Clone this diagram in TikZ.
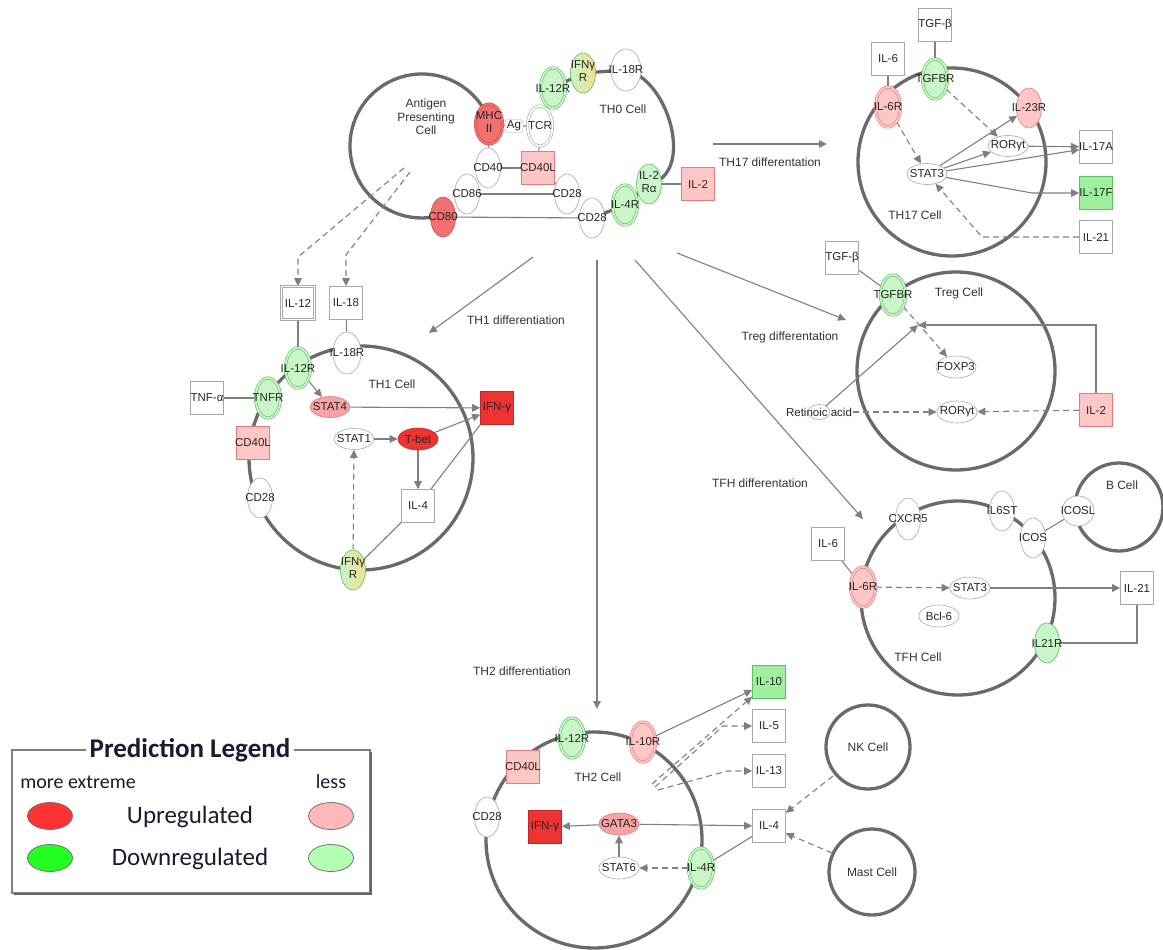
\documentclass[tikz,border=0pt]{standalone}
\usepackage{fontspec}
\setmainfont{Liberation Sans}
\newfontfamily\legfont{Carlito}
\usetikzlibrary{shapes.geometric,arrows.meta}
\pgfdeclarelayer{memb}
\pgfdeclarelayer{edgelayer}
\pgfsetlayers{memb,edgelayer,main}
\definecolor{wB}{HTML}{A8A8A8}
\definecolor{gF}{HTML}{C9F5C9}
\definecolor{gB}{HTML}{5DBE5D}
\definecolor{gMF}{HTML}{9EF09E}
\definecolor{pF}{HTML}{FFC6C6}
\definecolor{pB}{HTML}{E07C7C}
\definecolor{pDkF}{HTML}{F7A3A3}
\definecolor{rMF}{HTML}{F27070}
\definecolor{rMB}{HTML}{D05050}
\definecolor{rSF}{HTML}{EE3333}
\definecolor{rSB}{HTML}{C02828}
\definecolor{memc}{HTML}{6A6A6A}
\definecolor{edgec}{HTML}{7F7F7F}
\definecolor{yF}{HTML}{F0E090}
\definecolor{legR}{HTML}{FF3333}
\definecolor{legr}{HTML}{FFB8B8}
\definecolor{legG}{HTML}{22FF22}
\definecolor{legg}{HTML}{B3FFB3}
\definecolor{legtxt}{HTML}{1A1A30}
\newcommand{\zl}[1]{\makebox[0pt]{#1}}
\newcommand{\zt}[2]{\makebox[0pt]{\begin{tabular}{@{}c@{}}#1\\[1pt]#2\end{tabular}}}
\begin{document}
\begin{tikzpicture}[x=1pt,y=-1pt,
  lab/.style={font=\fontsize{11.5}{12}\selectfont, text=black!85},
  celltxt/.style={font=\fontsize{12}{13.5}\selectfont, text=black!80, align=center},
  ell/.style={ellipse, lab, draw=wB, fill=white, inner sep=0pt, minimum width=25, minimum height=40, line width=0.6pt},
  hell/.style={ell, minimum width=40, minimum height=21},
  box/.style={rectangle, lab, draw=wB, fill=white, inner sep=0pt, minimum width=33, minimum height=33, line width=0.6pt},
  gD/.style={fill=gF, draw=gB, double=gF, double distance=1.8pt},
  gS/.style={fill=gF, draw=gB},
  gM/.style={fill=gMF, draw=gB},
  pD/.style={fill=pF, draw=pB, double=pF, double distance=1.8pt},
  pS/.style={fill=pF, draw=pB},
  pK/.style={fill=pDkF, draw=pB},
  rM/.style={fill=rMF, draw=rMB},
  rD/.style={fill=rMF, draw=rMB, double=rMF, double distance=1.8pt},
  rS/.style={fill=rSF, draw=rSB},
  wD/.style={draw=wB, double=white, double distance=1.8pt},
  grad/.style={left color=gF, right color=yF, draw=gB},
  mem/.style={draw=memc, line width=3.3pt},
  ln/.style={draw=edgec, line width=1.1pt},
  arr/.style={ln, -{Triangle[length=8pt,width=7.5pt]}},
  dsh/.style={ln, dash pattern=on 6pt off 4pt},
  darr/.style={arr, dash pattern=on 6pt off 4pt},
  legell/.style={ellipse, draw=black!55, line width=0.8pt, minimum width=45, minimum height=27, inner sep=0pt},
]
\useasboundingbox (0,0) rectangle (1163,950);
\begin{pgfonlayer}{memb}
\fill[white] (0,0) rectangle (1163,950);
\end{pgfonlayer}

% ================= APC / TH0 =================
\node[celltxt] (APCt) at (426,117) {Antigen\\Presenting\\Cell};
\node[ell] (CD86) at (467,194) {\zl{CD86}};
\node[ell] (CD40) at (488,168) {\zl{CD40}};
\node[ell, rM] (CD80) at (443,217) {\zl{CD80}};
\node[ell, rD, minimum width=27] (MHC) at (489,124) {\zt{MHC}{II}};
\node[rectangle, rounded corners=3pt, draw=wB, fill=white, lab, minimum width=18, minimum height=13, inner sep=1pt] (Ag) at (514,126) {Ag};
\node[ell, wD] (TCR) at (540,126) {\zl{TCR}};
\node[box, pS] (CD40La) at (538,168) {\zl{CD40L}};
\node[ell] (CD28a) at (567,194) {\zl{CD28}};
\node[ell] (CD28b) at (592,218) {\zl{CD28}};
\node[ell, gD] (IL4Ra) at (625,205) {\zl{IL-4R}};
\node[ell, gS] (IL2Ra) at (649,184) {\zt{IL-2}{Rα}};
\node[box, pS] (IL2a) at (698,184) {\zl{IL-2}};
\node[ell, gD] (IL12Ra) at (553,88) {\zl{IL-12R}};
\node[ell, grad] (IFNGRa) at (583,73) {\zt{IFNγ}{R}};
\node[ell, minimum width=30, minimum height=42] (IL18Ra) at (626,70) {\zl{IL-18R}};
\node[celltxt] (TH0t) at (623,109) {TH0 Cell};

% differentiation arrows
\coordinate (d17s) at (713,144); \coordinate (d17e) at (827,144);
\node[celltxt] (d17t) at (770,162) {TH17 differentation};
\coordinate (d1s) at (533,257); \coordinate (d1e) at (429,333);
\node[celltxt] (d1t) at (516,320) {TH1 differentiation};
\coordinate (d2s) at (597,260); \coordinate (d2e) at (597,709);
\node[celltxt] (d2t) at (522,671) {TH2 differentiation};
\coordinate (dfs) at (635,260); \coordinate (dfe) at (863,519);
\node[celltxt] (dft) at (760,483) {TFH differentation};
\coordinate (dts) at (677,253); \coordinate (dte) at (846,320);
\node[celltxt] (dtt) at (790,337) {Treg differentation};

% ================= TH17 =================
\node[box] (TGFb17) at (935,25) {\zl{TGF-β}};
\node[box] (IL6a) at (888,59) {\zl{IL-6}};
\node[ell, gD] (TGFBR17) at (935,79) {\zl{TGFBR}};
\node[ell, pD] (IL6R17) at (888,107) {\zl{IL-6R}};
\node[ell, pS] (IL23R) at (1029,108) {\zl{IL-23R}};
\node[hell] (ROR17) at (1008,146) {\zl{RORγt}};
\node[hell] (STAT317) at (927,174) {\zl{STAT3}};
\node[box] (IL17A) at (1096,147) {\zl{IL-17A}};
\node[box, gM] (IL17F) at (1096,193) {\zl{IL-17F}};
\node[box] (IL21a) at (1096,237) {\zl{IL-21}};
\node[celltxt] (TH17t) at (915,215) {TH17 Cell};
\coordinate (k17F) at (1032,193);
\coordinate (k21) at (982,237);

% ================= TH1 =================
\node[box, wD] (IL12) at (298,303) {\zl{IL-12}};
\node[box] (IL18) at (346,303) {\zl{IL-18}};
\node[ell, minimum width=28, minimum height=42] (IL18R1) at (347,353) {\zl{IL-18R}};
\node[ell, gD] (IL12R1) at (298,368) {\zl{IL-12R}};
\node[ell, gD] (TNFR) at (268,398) {\zl{TNFR}};
\node[box] (TNFa) at (207,398) {\zl{TNF-α}};
\node[box, pS] (CD40L1) at (253,443) {\zl{CD40L}};
\node[ell] (CD281) at (260,498) {\zl{CD28}};
\node[hell, pK] (STAT4) at (330,407) {\zl{STAT4}};
\node[box, rS] (IFNg1) at (497,408) {\zl{IFN-γ}};
\node[hell] (STAT1) at (354,439) {\zl{STAT1}};
\node[hell, rS, minimum height=22] (Tbet) at (418,439) {\zl{T-bet}};
\node[box] (IL41) at (418,506) {\zl{IL-4}};
\node[ell, grad] (IFNGR1) at (353,570) {\zt{IFNγ}{R}};
\node[celltxt] (TH1t) at (392,384) {TH1 Cell};
\coordinate (a1) at (404,168); \coordinate (a2) at (410,172);
\coordinate (b1) at (298,257); \coordinate (b2) at (346,255);

% ================= Treg =================
\node[box] (TGFbT) at (842,258) {\zl{TGF-β}};
\node[ell, gD] (TGFBRT) at (893,295) {\zl{TGFBR}};
\node[celltxt] (Tregt) at (959,293) {Treg Cell};
\node[hell, minimum height=22] (FOXP3) at (956,367) {\zl{FOXP3}};
\node[hell, minimum height=22] (RORT) at (957,412) {\zl{RORγt}};
\node[ellipse, draw=wB, fill=white, line width=0.6pt, minimum width=22, minimum height=15, inner sep=0pt] (RAe) at (819,412) {};
\node[lab, inner sep=1pt] (RA) at (819,412) {Retinoic acid};
\node[box, pS] (IL2T) at (1096,410) {\zl{IL-2}};
\coordinate (J) at (918,325);
\coordinate (kT) at (1096,325);

% ================= TFH =================
\node[celltxt] (Bt) at (1122,485) {B Cell};
\node[ell, minimum height=42] (CXCR5) at (908,519) {\zl{CXCR5}};
\node[ell] (IL6ST) at (1002,511) {\zl{IL6ST}};
\node[ell] (ICOS) at (1033,538) {\zl{ICOS}};
\node[ell, minimum width=32, minimum height=30] (ICOSL) at (1078,511) {\zl{ICOSL}};
\node[box] (IL6F) at (828,544) {\zl{IL-6}};
\node[ell, pD] (IL6RF) at (863,587) {\zl{IL-6R}};
\node[hell, minimum height=22] (STAT3F) at (970,588) {\zl{STAT3}};
\node[hell, minimum height=22] (Bcl6) at (939,616) {\zl{Bcl-6}};
\node[box] (IL21F) at (1137,588) {\zl{IL-21}};
\node[ell, gS] (IL21R) at (1047,643) {\zl{IL21R}};
\node[celltxt] (TFHt) at (918,657) {TFH Cell};
\coordinate (kF) at (1137,643);

% ================= TH2 =================
\node[ell, gD] (IL12R2) at (572,738) {\zl{IL-12R}};
\node[ell, pD] (IL10R2) at (643,742) {\zl{IL-10R}};
\node[box, pS] (CD40L2) at (523,767) {\zl{CD40L}};
\node[celltxt] (TH2t) at (598,777) {TH2 Cell};
\node[ell] (CD282) at (487,817) {\zl{CD28}};
\node[box, rS] (IFNg2) at (545,827) {\zl{IFN-γ}};
\node[hell, pK, minimum height=22] (GATA3) at (619,824) {\zl{GATA3}};
\node[hell, minimum height=22] (STAT6) at (619,868) {\zl{STAT6}};
\node[ell, gD] (IL4R2) at (701,868) {\zl{IL-4R}};
\node[box, gM] (IL10) at (769,682) {\zl{IL-10}};
\node[box] (IL5) at (769,726) {\zl{IL-5}};
\node[box] (IL13) at (769,771) {\zl{IL-13}};
\node[box] (IL42) at (769,826) {\zl{IL-4}};
\coordinate (F1) at (652,784); \coordinate (F2) at (655,787); \coordinate (F3) at (658,790);
\coordinate (k5) at (723,726); \coordinate (k13) at (727,771);
\node[celltxt] (NKt) at (868,747) {NK Cell};
\node[celltxt] (Mastt) at (872,872) {Mast Cell};
\coordinate (nk) at (833,776); \coordinate (ms) at (832,853);

% ================= Legend =================
\draw[draw=black!50, line width=1.3pt] (12,750) rectangle (370,893);
\draw[draw=black!60, line width=1.6pt] (14,894) -- (371,894) -- (371,752);
\node[fill=white, inner xsep=4pt, inner ysep=0pt, text=legtxt, font=\legfont\bfseries\fontsize{27}{29}\selectfont] (LT) at (190,750) {Prediction Legend};
\node[text=legtxt, font=\legfont\fontsize{20}{22}\selectfont] (ME) at (78,782) {more extreme};
\node[text=legtxt, font=\legfont\fontsize{20}{22}\selectfont] (LS) at (331,782) {less};
\node[legell, fill=legR] (L1) at (50,816) {};
\node[legell, fill=legr] (L2) at (331,816) {};
\node[legell, fill=legG] (L3) at (50,858) {};
\node[legell, fill=legg] (L4) at (331,858) {};
\node[text=legtxt, font=\legfont\fontsize{25}{27}\selectfont] (UP) at (190,817) {Upregulated};
\node[text=legtxt, font=\legfont\fontsize{25}{27}\selectfont] (DN) at (190,859) {Downregulated};

% ================= Membranes =================
\begin{pgfonlayer}{memb}
\draw[mem] (422,146) ++(-18:72) arc[start angle=-18, end angle=-270, radius=72] -- (CD80.center);
\draw[mem] (TCR.center) -- (IL12Ra.center) -- (IFNGRa.center) -- (IL18Ra.center)
   .. controls (670,80) and (695,175) .. (IL2Ra.center) -- (IL4Ra.center) -- (CD28b.center);
\draw[mem] (952,162) circle[radius=94];
\draw[mem] (361,458) circle[radius=112];
\draw[mem] (956,371) circle[radius=99];
\draw[mem] (958,598) circle[radius=97];
\draw[mem] (1119,507) circle[radius=44];
\draw[mem] (594,840) circle[radius=108];
\draw[mem] (868,747) circle[radius=42];
\draw[mem] (872,872) circle[radius=43];
\end{pgfonlayer}

% ================= Edges =================
\begin{pgfonlayer}{edgelayer}
% TH0
\draw[ln] (MHC) -- (Ag) -- (TCR);
\draw[ln] (MHC) -- (CD40);
\draw[ln] (TCR) -- (CD40La);
\draw[ln] (CD40) -- (CD40La);
\draw[ln] (CD40La) -- (CD28a);
\draw[ln] (CD86) -- (CD28a);
\draw[ln] (CD80) -- (CD28b);
\draw[ln] (IL2Ra) -- (IL2a);
% differentiation
\draw[arr] (d17s) -- (d17e);
\draw[arr] (d1s) -- (d1e);
\draw[arr] (d2s) -- (d2e);
\draw[arr] (dfs) -- (dfe);
\draw[arr] (dts) -- (dte);
% TH17
\draw[ln] (TGFb17) -- (TGFBR17);
\draw[ln] (IL6a) -- (IL6R17);
\draw[darr] (TGFBR17) -- (ROR17);
\draw[darr] (IL6R17) -- (STAT317);
\draw[arr] (STAT317) -- (IL23R);
\draw[arr] (STAT317) -- (ROR17);
\draw[arr] (ROR17) -- (IL17A);
\draw[arr] (STAT317) -- (IL17A);
\draw[arr] (STAT317) -- (k17F) -- (IL17F);
\draw[darr] (IL21a) -- (k21) -- (STAT317);
% TH1
\draw[darr] (a1) -- (b1) -- (IL12);
\draw[darr] (a2) -- (b2) -- (IL18);
\draw[ln] (IL12) -- (IL12R1);
\draw[ln] (IL18) -- (IL18R1);
\draw[ln] (TNFa) -- (TNFR);
\draw[arr] (IL12R1) -- (STAT4);
\draw[arr] (STAT4) -- (IFNg1);
\draw[arr] (STAT1) -- (Tbet);
\draw[arr] (Tbet) -- (IFNg1);
\draw[arr] (Tbet) -- (IL41);
\draw[ln] (IL41) -- (IFNg1.south west);
\draw[darr] (IFNGR1) -- (STAT1);
\draw[ln] (IFNGR1) -- (IL41);
% Treg
\draw[ln] (TGFbT) -- (TGFBRT);
\draw[darr] (TGFBRT) -- (FOXP3);
\draw[arr] (RAe) -- (J);
\draw[arr] (IL2T) -- (kT) -- (J);
\draw[darr] (RA) -- (RORT);
\draw[darr] (IL2T) -- (RORT);
% TFH
\draw[ln] (IL6F) -- (IL6RF);
\draw[darr] (IL6RF) -- (STAT3F);
\draw[arr] (STAT3F) -- (IL21F);
\draw[ln] (IL21F) -- (kF) -- (IL21R);
\draw[ln] (ICOS) -- (ICOSL);
% TH2
\draw[arr] (IL10R2) -- (IL10);
\draw[darr] (F1) -- (IL10);
\draw[darr] (F2) -- (k5) -- (IL5);
\draw[darr] (F3) -- (k13) -- (IL13);
\draw[arr] (GATA3) -- (IFNg2);
\draw[arr] (GATA3) -- (IL42);
\draw[arr] (STAT6) -- (GATA3);
\draw[darr] (IL4R2) -- (STAT6);
\draw[ln] (IL42) -- (IL4R2);
\draw[darr] (nk) -- (IL42);
\draw[darr] (ms) -- (IL42);
\end{pgfonlayer}
\end{tikzpicture}
\end{document}
